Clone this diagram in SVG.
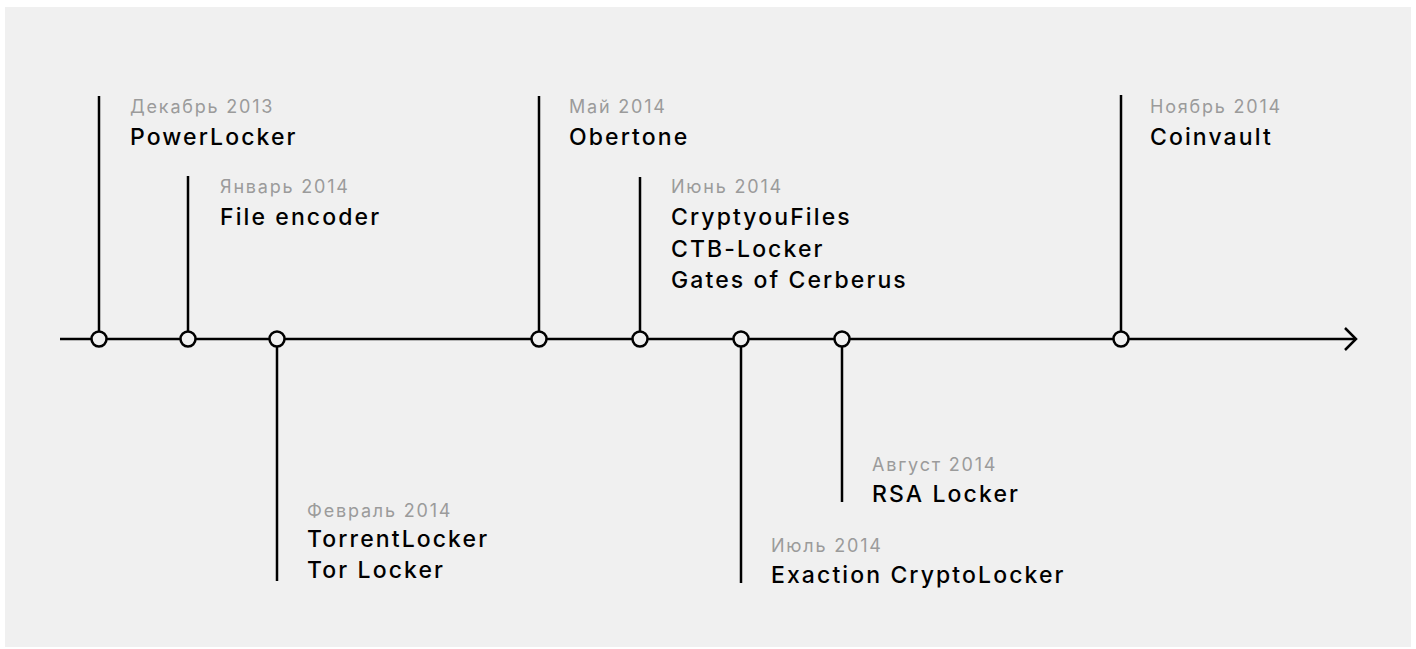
<svg xmlns="http://www.w3.org/2000/svg" width="1416" height="649" viewBox="0 0 1416 649">
  <style>
    .bg { fill: #f0f0f0; }
    .ln { stroke: #000; stroke-width: 2.5; fill: none; }
    .dot { stroke: #000; stroke-width: 2.5; fill: #f0f0f0; }
    .date { font-family: Inter, "Liberation Sans", sans-serif; font-size: 18px; fill: #9b9b9b; letter-spacing: 1.8px; }
    .name { font-family: Inter, "Liberation Sans", sans-serif; font-size: 23px; font-weight: 500; fill: #000; letter-spacing: 2.1px; }
  </style>
  <rect x="0" y="0" width="1416" height="649" fill="#ffffff"/>
  <rect class="bg" x="5" y="7" width="1406" height="640"/>
  <g id="connectors">
    <line class="ln" x1="60" y1="339" x2="1356" y2="339"/>
    <polyline class="ln" points="1345,328 1356,339 1345,350"/>
    <line class="ln" x1="99" y1="96" x2="99" y2="331"/>
    <line class="ln" x1="188" y1="176" x2="188" y2="331"/>
    <line class="ln" x1="277" y1="347" x2="277" y2="581"/>
    <line class="ln" x1="539" y1="96" x2="539" y2="331"/>
    <line class="ln" x1="640" y1="177" x2="640" y2="331"/>
    <line class="ln" x1="741" y1="347" x2="741" y2="583"/>
    <line class="ln" x1="842" y1="347" x2="842" y2="502"/>
    <line class="ln" x1="1121" y1="95" x2="1121" y2="331"/>
  </g>
  <g id="dec2013">
    <circle class="dot" cx="99" cy="339" r="7.5"/>
    <text class="date" x="130" y="113">Декабрь 2013</text>
    <text class="name" x="130" y="145">PowerLocker</text>
  </g>
  <g id="jan2014">
    <circle class="dot" cx="188" cy="339" r="7.5"/>
    <text class="date" x="220" y="193">Январь 2014</text>
    <text class="name" x="220" y="225">File encoder</text>
  </g>
  <g id="feb2014">
    <circle class="dot" cx="277" cy="339" r="7.5"/>
    <text class="date" x="307" y="517">Февраль 2014</text>
    <text class="name" x="307" y="547">TorrentLocker</text>
    <text class="name" x="307" y="578">Tor Locker</text>
  </g>
  <g id="may2014">
    <circle class="dot" cx="539" cy="339" r="7.5"/>
    <text class="date" x="569" y="113">Май 2014</text>
    <text class="name" x="569" y="145">Obertone</text>
  </g>
  <g id="jun2014">
    <circle class="dot" cx="640" cy="339" r="7.5"/>
    <text class="date" x="671" y="193">Июнь 2014</text>
    <text class="name" x="671" y="225">CryptyouFiles</text>
    <text class="name" x="671" y="257">CTB-Locker</text>
    <text class="name" x="671" y="288">Gates of Cerberus</text>
  </g>
  <g id="jul2014">
    <circle class="dot" cx="741" cy="339" r="7.5"/>
    <text class="date" x="771" y="552">Июль 2014</text>
    <text class="name" x="771" y="583">Exaction CryptoLocker</text>
  </g>
  <g id="aug2014">
    <circle class="dot" cx="842" cy="339" r="7.5"/>
    <text class="date" x="872" y="471">Август 2014</text>
    <text class="name" x="872" y="502">RSA Locker</text>
  </g>
  <g id="nov2014">
    <circle class="dot" cx="1121" cy="339" r="7.5"/>
    <text class="date" x="1150" y="113">Ноябрь 2014</text>
    <text class="name" x="1150" y="145">Coinvault</text>
  </g>
</svg>
